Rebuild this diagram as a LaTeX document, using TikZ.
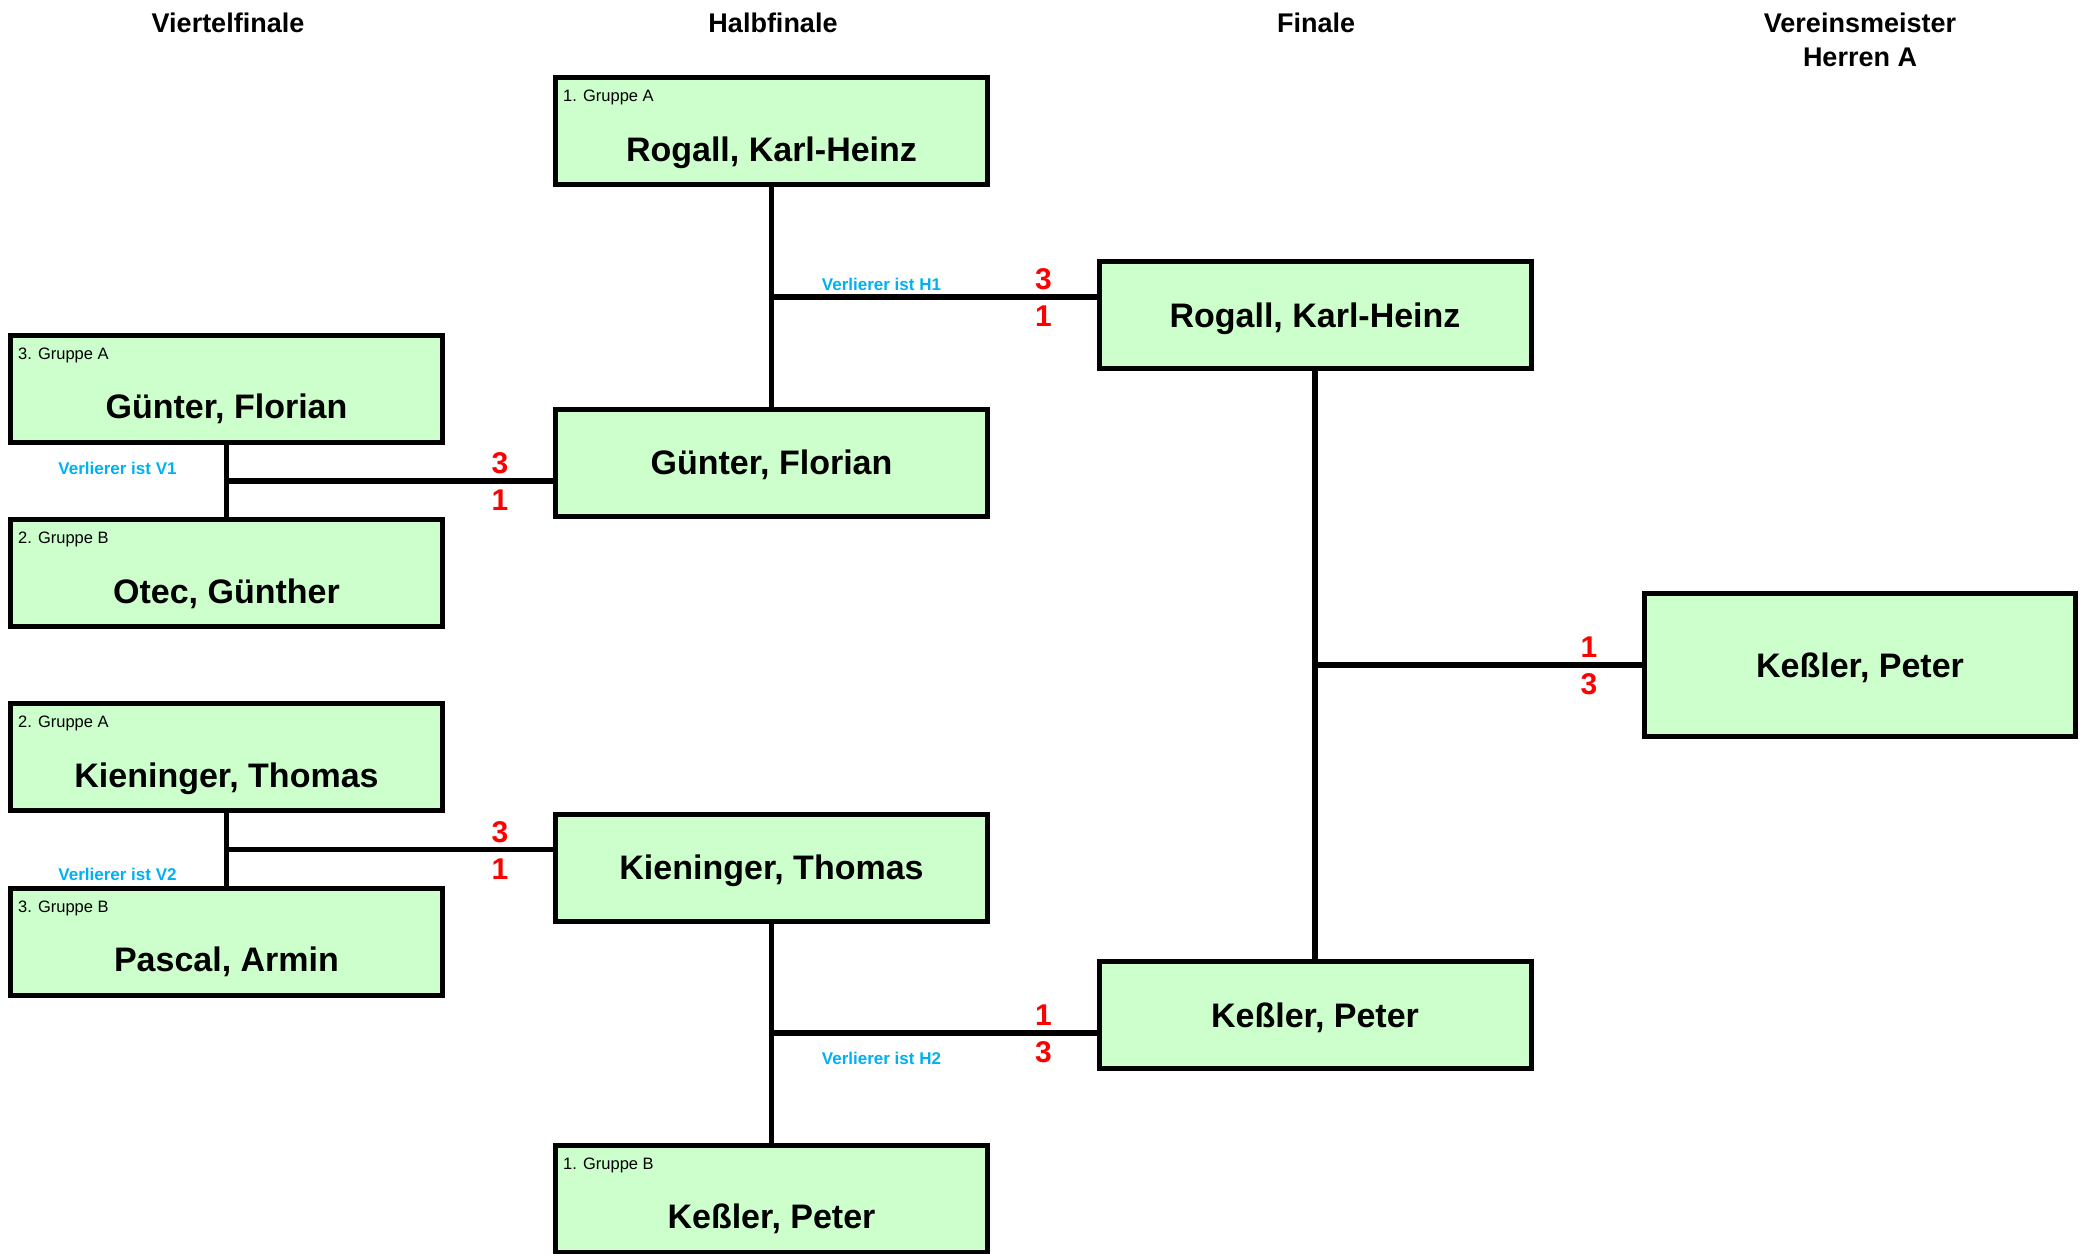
\documentclass[tikz,border=0pt]{standalone}
\usepackage{fontspec}
\setmainfont{Liberation Sans}
\usepackage{tikz}
\usetikzlibrary{calc}
\definecolor{slotgreen}{HTML}{CCFFCC}
\definecolor{losercyan}{HTML}{00B0F0}
\tikzstyle{slot} = [draw, rectangle, fill=slotgreen, line width=5pt, minimum width=432pt, minimum height=107pt, inner sep=0pt, font=\bfseries\fontsize{34}{40}\selectfont, text height=24.3pt, text depth=0pt]
\tikzstyle{seeded} = [text height=60.3pt]
\tikzstyle{gruppe} = [anchor=west, inner sep=0pt, font=\fontsize{16.5}{20}\selectfont, text height=11.8pt, text depth=0pt]
\tikzstyle{score} = [inner sep=0pt, text=red, font=\bfseries\fontsize{30}{36}\selectfont, text height=21.5pt, text depth=0pt]
\tikzstyle{loser} = [inner sep=0pt, text=losercyan, font=\bfseries\fontsize{17}{20}\selectfont, text height=12.2pt, text depth=0pt]
\tikzstyle{stage} = [anchor=north, inner sep=0pt, align=center, font=\bfseries\fontsize{27}{34}\selectfont]
\tikzstyle{link} = [line width=5.5pt]

\begin{document}
\begin{tikzpicture}[x=1pt, y=-1pt]
    \useasboundingbox (0,0) rectangle (2088,1253);
    % rounds
    \node[stage] (t1) at (228,13) {Viertelfinale};
    \node[stage] (t2) at (773,13) {Halbfinale};
    \node[stage] (t3) at (1316,13) {Finale};
    \node[stage] (t4) at (1860,13) {Vereinsmeister\\Herren A};
    % quarter finals
    \node[slot, seeded] (v1) at (226.5,388.5) {Günter, Florian};
    \node[slot, seeded] (v2) at (226.5,573) {Otec, Günther};
    \node[slot, seeded] (v3) at (226.5,757) {Kieninger, Thomas};
    \node[slot, seeded] (v4) at (226.5,941.5) {Pascal, Armin};
    \node[gruppe] (v1g) at ([shift={(10,21)}]v1.north west) {3. Gruppe A};
    \node[gruppe] (v2g) at ([shift={(10,21)}]v2.north west) {2. Gruppe B};
    \node[gruppe] (v3g) at ([shift={(10,21)}]v3.north west) {2. Gruppe A};
    \node[gruppe] (v4g) at ([shift={(10,21)}]v4.north west) {3. Gruppe B};
    % semi finals
    \node[slot, seeded] (h1) at (771.5,131) {Rogall, Karl-Heinz};
    \node[slot] (h2) at (771.5,462.5) {Günter, Florian};
    \node[slot] (h3) at (771.5,867.5) {Kieninger, Thomas};
    \node[slot, seeded] (h4) at (771.5,1198.5) {Keßler, Peter};
    \node[gruppe] (h1g) at ([shift={(10,21)}]h1.north west) {1. Gruppe A};
    \node[gruppe] (h4g) at ([shift={(10,21)}]h4.north west) {1. Gruppe B};
    % final and winner
    \node[slot] (f1) at (1315,315) {Rogall, Karl-Heinz};
    \node[slot] (f2) at (1315,1015) {Keßler, Peter};
    \node[slot, minimum width=431pt, minimum height=143pt] (w) at (1860,665) {Keßler, Peter};

    % matches
    \draw[link] (v1.south) -- (v2.north);
    \coordinate (q1) at ($(v1.south)!0.5!(v2.north)$);
    \coordinate (e1) at (q1 -| h2.west);
    \draw[link] (q1) -- (e1);
    \draw[link] (v3.south) -- (v4.north);
    \coordinate (q2) at ($(v3.south)!0.5!(v4.north)$);
    \coordinate (e2) at (q2 -| h3.west);
    \draw[link] (q2) -- (e2);
    \draw[link] (h1.south) -- (h2.north);
    \coordinate (q3) at ($(h1.south)!0.5!(h2.north)$);
    \coordinate (e3) at (q3 -| f1.west);
    \draw[link] (q3) -- (e3);
    \draw[link] (h3.south) -- (h4.north);
    \coordinate (q4) at ($(h3.south)!0.5!(h4.north)$);
    \coordinate (e4) at (q4 -| f2.west);
    \draw[link] (q4) -- (e4);
    \draw[link] (f1.south) -- (f2.north);
    \coordinate (q5) at ($(f1.south)!0.5!(f2.north)$);
    \coordinate (e5) at (q5 -| w.west);
    \draw[link] (q5) -- (e5);

    % results
    \node[score] (s1a) at ([shift={(-53,-18)}]e1) {3};
    \node[score] (s1b) at ([shift={(-53,19)}]e1) {1};
    \node[score] (s2a) at ([shift={(-53,-18)}]e2) {3};
    \node[score] (s2b) at ([shift={(-53,19)}]e2) {1};
    \node[score] (s3a) at ([shift={(-53,-18)}]e3) {3};
    \node[score] (s3b) at ([shift={(-53,19)}]e3) {1};
    \node[score] (s4a) at ([shift={(-53,-18)}]e4) {1};
    \node[score] (s4b) at ([shift={(-53,19)}]e4) {3};
    \node[score] (s5a) at ([shift={(-53,-18)}]e5) {1};
    \node[score] (s5b) at ([shift={(-53,19)}]e5) {3};

    % losers
    \node[loser] (l1) at ([shift={(-109,-12)}]q1) {Verlierer ist V1};
    \node[loser] (l2) at ([shift={(-109,25)}]q2) {Verlierer ist V2};
    \node[loser] (l3) at ([shift={(110,-12)}]q3) {Verlierer ist H1};
    \node[loser] (l4) at ([shift={(110,25)}]q4) {Verlierer ist H2};
\end{tikzpicture}
\end{document}
